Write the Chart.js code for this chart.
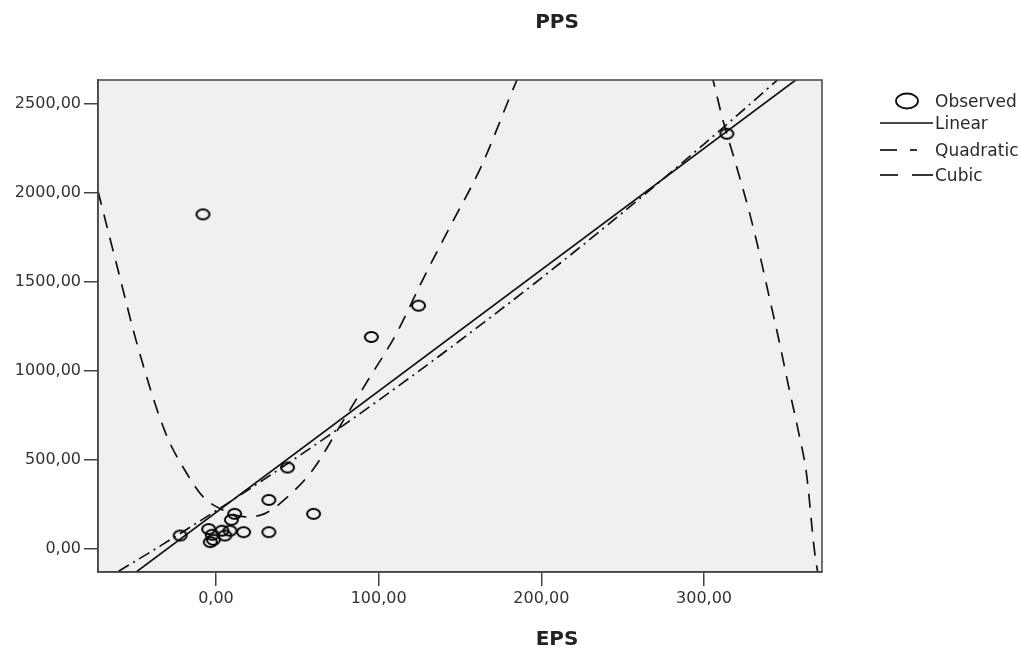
<!DOCTYPE html>
<html>
<head>
<meta charset="utf-8">
<script src="https://cdn.jsdelivr.net/npm/chart.js@4.4.1/dist/chart.umd.min.js"></script>
<style>
    body { margin: 0; background: #fff; }
    #wrap { position: relative; width: 1021px; height: 659px; font-family: "DejaVu Sans", sans-serif; color: #222; }
    #wrap canvas { position: absolute; left: 0; top: 0; }
    .title { position: absolute; width: 120px; text-align: center; font-weight: bold; font-size: 20px; line-height: 24px; }
    .leg { position: absolute; left: 880px; height: 20px; width: 141px; }
    .leg svg { position: absolute; left: 0; top: 0; }
    .leg span { position: absolute; left: 55px; top: 0; font-size: 17px; line-height: 20px; color: #2a2a2a; }
</style>
</head>
<body>
<div id="wrap">
    <canvas id="curveChart" width="1021" height="659"></canvas>
    <div class="title" style="left:497px; top:9px;">PPS</div>
    <div class="title" style="left:497px; top:626px;">EPS</div>

    <div class="leg" style="top:91px;">
        <svg width="54" height="20"><ellipse cx="27" cy="10" rx="11" ry="7.5" fill="none" stroke="#111" stroke-width="1.8"/></svg>
        <span>Observed</span>
    </div>
    <div class="leg" style="top:113px;">
        <svg width="54" height="20"><line x1="0" y1="10" x2="53" y2="10" stroke="#111" stroke-width="1.7"/></svg>
        <span>Linear</span>
    </div>
    <div class="leg" style="top:140px;">
        <svg width="54" height="20"><line x1="0" y1="10" x2="17" y2="10" stroke="#111" stroke-width="1.7"/><line x1="30" y1="10" x2="37" y2="10" stroke="#111" stroke-width="1.7"/></svg>
        <span>Quadratic</span>
    </div>
    <div class="leg" style="top:165px;">
        <svg width="54" height="20"><line x1="0" y1="10" x2="18" y2="10" stroke="#111" stroke-width="1.7"/><line x1="32" y1="10" x2="53" y2="10" stroke="#111" stroke-width="1.7"/></svg>
        <span>Cubic</span>
    </div>
</div>

<script>
// OBSERVED POINTS (EPS, PPS)
const obsEps = [-8, 124.5, 95.5, 314, 44, 32.5, 60, 32.5, 17, -22, 11.5, 9.5, -4.5, -3.5, -1.6, -2.3, 3.7, 5.5, 8.6];
const obsPps = [1880, 1367, 1191, 2333, 457, 275, 197, 94, 94, 75, 197, 163, 111, 38, 51, 79, 102, 75, 102];

// FITTED CURVES
const linEps = [-72.5, 372.5];
const linPps = [-290, 2745];

const quadEps = [-72.5, -40, 0, 50, 100, 150, 200, 250, 300, 340, 372.5];
const quadPps = [-195, -16, 214, 516, 835, 1171, 1522, 1890, 2275, 2594, 2861];

const cubEps = [-72.5, -60, -48, -31, -18, -8, 5, 18, 30, 45, 60, 76, 93.5, 111, 127, 145, 163, 185,
    200, 220, 245, 270, 290, 300, 305.5, 311, 320, 328, 334, 340, 346, 352, 358, 363, 368, 372.5];
const cubPps = [2010, 1560, 1135, 652, 425, 294, 215, 180, 198, 300, 450, 687, 949, 1211, 1511, 1830, 2148, 2635,
    2930, 3200, 3330, 3230, 3000, 2800, 2635, 2430, 2148, 1887, 1663, 1418, 1174, 912, 660, 420, -20, -260];

// AXIS TICKS
const xTicks = [0, 100, 200, 300];
const yTicks = [0, 500, 1000, 1500, 2000, 2500];

const toPts = (xs, ys) => xs.map((x, i) => ({ x: x, y: ys[i] }));
const fmt = v => v.toFixed(2).replace(".", ",");

// small open ellipse used as marker
function ring(w, h) {
    const c = document.createElement("canvas");
    c.width = w + 4;
    c.height = h + 4;
    const g = c.getContext("2d");
    g.strokeStyle = "#000";
    g.lineWidth = 2;
    g.beginPath();
    g.ellipse(c.width / 2, c.height / 2, w / 2, h / 2, 0, 0, 2 * Math.PI);
    g.stroke();
    return c;
}

// grey plot background + frame
const plotFrame = {
    id: "plotFrame",
    beforeDraw(chart) {
        const { ctx, chartArea: a } = chart;
        ctx.save();
        ctx.fillStyle = "#f0f0f0";
        ctx.fillRect(a.left, a.top, a.width, a.height);
        ctx.restore();
    },
    afterDatasetsDraw(chart) {
        const { ctx, chartArea: a } = chart;
        ctx.save();
        ctx.strokeStyle = "#444";
        ctx.lineWidth = 1.5;
        ctx.strokeRect(a.left, a.top, a.width, a.height);
        ctx.restore();
    }
};

const lineStyle = {
    type: "line",
    showLine: true,
    pointRadius: 0,
    borderColor: "#111",
    borderWidth: 1.7,
    fill: false,
    cubicInterpolationMode: "monotone"
};

const axisFont = { family: "DejaVu Sans", size: 16 };

new Chart(document.getElementById("curveChart"), {
    type: "scatter",
    data: {
        datasets: [
            {
                label: "Observed",
                data: toPts(obsEps, obsPps),
                pointStyle: ring(13, 10),
                pointRadius: 6
            },
            { ...lineStyle, label: "Linear", data: toPts(linEps, linPps) },
            { ...lineStyle, label: "Quadratic", data: toPts(quadEps, quadPps), borderDash: [12, 5, 2, 5] },
            { ...lineStyle, label: "Cubic", data: toPts(cubEps, cubPps), borderDash: [14, 10] }
        ]
    },
    options: {
        responsive: false,
        animation: false,
        layout: { padding: { left: 0, right: 199, top: 80, bottom: 0 } },
        plugins: {
            legend: { display: false },
            tooltip: { enabled: false }
        },
        scales: {
            x: {
                type: "linear",
                min: -72.5,
                max: 372.5,
                afterBuildTicks: s => { s.ticks = xTicks.map(v => ({ value: v })); },
                afterFit: s => { s.height = 87; },
                ticks: { font: axisFont, color: "#333", padding: 3, callback: v => fmt(v) },
                grid: { drawOnChartArea: false, drawTicks: true, tickLength: 14, color: "#444", lineWidth: 1.5 },
                border: { display: true, color: "#444", width: 1.5 }
            },
            y: {
                type: "linear",
                min: -130,
                max: 2635,
                afterBuildTicks: s => { s.ticks = yTicks.map(v => ({ value: v })); },
                afterFit: s => { s.width = 98; },
                ticks: { font: axisFont, color: "#333", padding: 3, callback: v => fmt(v) },
                grid: { drawOnChartArea: false, drawTicks: true, tickLength: 14, color: "#444", lineWidth: 1.5 },
                border: { display: true, color: "#444", width: 1.5 }
            }
        }
    },
    plugins: [plotFrame]
});
</script>
</body>
</html>
